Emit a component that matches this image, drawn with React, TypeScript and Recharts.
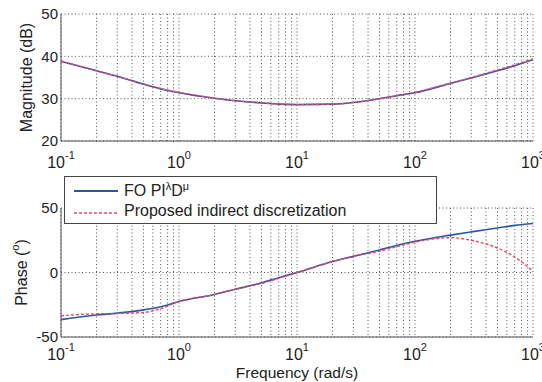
import React from "react";
import { LineChart, Line, XAxis, YAxis, CartesianGrid, Legend, Label } from "recharts";

// frequency points (rad/s)
const FREQ = [0.1, 0.2, 0.3, 0.5, 0.7, 1, 2, 3, 5, 7, 10, 20, 30, 50, 70, 100, 200, 300, 500, 700, 1000];

// magnitude (dB)
const MAG_FO = [38.8, 36.6, 35.3, 33.4, 32.3, 31.4, 30.1, 29.5, 29.0, 28.7, 28.6, 28.7, 29.1, 30.0, 30.7, 31.4, 33.6, 34.9, 36.6, 37.8, 39.2];
const MAG_DISC = [38.9, 36.6, 35.3, 33.5, 32.4, 31.5, 30.1, 29.5, 29.0, 28.7, 28.6, 28.7, 29.1, 30.0, 30.7, 31.5, 33.7, 35.0, 36.8, 38.0, 39.4];

// phase (deg)
const PHASE_FO = [-36.5, -33, -31.5, -29, -26.5, -22.5, -17, -13, -8, -4, 0, 8.5, 12.5, 17.5, 21, 24.2, 29, 31.5, 34.5, 36.5, 38];
const PHASE_DISC = [-33.5, -32, -31.8, -31, -28, -22.5, -17, -13, -8.5, -4.5, 0, 8.5, 12.5, 16.5, 20, 23.5, 27, 25, 19, 12, 1];

const DECADES = [0.1, 1, 10, 100, 1000];
const DECADE_EXP = ["-1", "0", "1", "2", "3"];
const MAG_TICKS = [20, 30, 40, 50];
const PHASE_TICKS = [-50, 0, 50];

const X_TICKS = DECADES.slice(0, -1)
  .flatMap((d) => [1, 2, 3, 4, 5, 6, 7, 8, 9].map((m) => +(d * m).toPrecision(3)))
  .concat(1000);

const magData = FREQ.map((f, i) => ({ f, fo: MAG_FO[i], disc: MAG_DISC[i] }));
const phaseData = FREQ.map((f, i) => ({ f, fo: PHASE_FO[i], disc: PHASE_DISC[i] }));

const FONT = "'Liberation Sans', Arial, sans-serif";
const BLUE = "#2a57a3";
const RED = "#e8476a";
const FRAME = "#555";
const GRID = "#555";
const W = 542;

function DecadeTick({ x, y, payload, shift }: any) {
  const i = DECADES.indexOf(payload.value);
  if (i < 0) return <g />;
  return (
    <text x={x} y={y + shift} textAnchor="middle" fontSize={16} fill="#222" fontFamily={FONT}>
      10
      <tspan dy={-9} fontSize={11}>
        {DECADE_EXP[i]}
      </tspan>
    </text>
  );
}

function YTitle({ viewBox, cx, children }: any) {
  const cy = viewBox.y + viewBox.height / 2;
  return (
    <text
      x={cx}
      y={cy}
      transform={`rotate(-90 ${cx} ${cy})`}
      textAnchor="middle"
      dominantBaseline="central"
      fontSize={16}
      fill="#222"
      fontFamily={FONT}
    >
      {children}
    </text>
  );
}

function LegendBox() {
  return (
    <div
      style={{
        width: 371,
        height: 46,
        border: "1px solid #444",
        background: "#fff",
        fontFamily: FONT,
        fontSize: 16,
        color: "#222",
        position: "relative",
      }}
    >
      <svg width={60} height={46} style={{ position: "absolute", left: 0, top: 0 }}>
        <line x1={9} x2={53} y1={14} y2={14} stroke={BLUE} strokeWidth={1.8} />
        <line x1={9} x2={53} y1={36} y2={36} stroke={RED} strokeWidth={1.6} strokeDasharray="3 2" />
      </svg>
      <div style={{ position: "absolute", left: 59, top: 3, whiteSpace: "nowrap" }}>
        FO PI<sup style={{ fontSize: 11 }}>λ</sup>D<sup style={{ fontSize: 11 }}>μ</sup>
      </div>
      <div style={{ position: "absolute", left: 59, top: 25, whiteSpace: "nowrap" }}>
        Proposed indirect discretization
      </div>
    </div>
  );
}

function frameAxes(domainY: number[]) {
  return [
    <XAxis
      key="top"
      xAxisId="top"
      orientation="top"
      type="number"
      scale="log"
      domain={[0.1, 1000]}
      allowDataOverflow
      tick={false}
      tickLine={false}
      height={0}
      axisLine={{ stroke: FRAME }}
    />,
    <YAxis
      key="right"
      yAxisId="right"
      orientation="right"
      type="number"
      domain={domainY}
      allowDataOverflow
      tick={false}
      tickLine={false}
      width={0}
      axisLine={{ stroke: FRAME }}
    />,
  ];
}

export default function App() {
  return (
    <div style={{ position: "absolute", left: 0, top: 0, width: W, height: 382, background: "#fff" }}>
      <div style={{ position: "absolute", left: 0, top: 0 }}>
        <LineChart width={W} height={170} data={magData} margin={{ top: 14, right: 9, left: 0, bottom: 0 }}>
          <CartesianGrid stroke={GRID} strokeDasharray="1 2.5" />
          <XAxis
            dataKey="f"
            type="number"
            scale="log"
            domain={[0.1, 1000]}
            ticks={X_TICKS}
            interval={0}
            allowDataOverflow
            height={29}
            tickSize={0}
            tickLine={false}
            tick={<DecadeTick shift={25} />}
            axisLine={{ stroke: FRAME }}
          />
          <YAxis
            type="number"
            domain={[20, 50]}
            ticks={MAG_TICKS}
            width={61}
            tickSize={0}
            tickMargin={3}
            tickLine={false}
            tick={{ fontSize: 15, fill: "#222", fontFamily: FONT }}
            axisLine={{ stroke: FRAME }}
          >
            <Label content={(p: any) => <YTitle viewBox={p.viewBox} cx={26}>Magnitude (dB)</YTitle>} />
          </YAxis>
          {frameAxes([20, 50])}
          <Line dataKey="fo" type="monotone" stroke={BLUE} strokeWidth={1.6} dot={false} isAnimationActive={false} />
          <Line
            dataKey="disc"
            type="monotone"
            stroke={RED}
            strokeWidth={1.4}
            strokeDasharray="3 2"
            dot={false}
            isAnimationActive={false}
          />
        </LineChart>
      </div>
      <div style={{ position: "absolute", left: 0, top: 170 }}>
        <LineChart width={W} height={212} data={phaseData} margin={{ top: 38, right: 9, left: 0, bottom: 0 }}>
          <CartesianGrid stroke={GRID} strokeDasharray="1 2.5" />
          <XAxis
            dataKey="f"
            type="number"
            scale="log"
            domain={[0.1, 1000]}
            ticks={X_TICKS}
            interval={0}
            allowDataOverflow
            height={45}
            tickSize={0}
            tickLine={false}
            tick={<DecadeTick shift={21} />}
            axisLine={{ stroke: FRAME }}
          >
            <Label
              value="Frequency (rad/s)"
              position="insideBottom"
              offset={4}
              style={{ fontSize: 15.5, fill: "#222", fontFamily: FONT }}
            />
          </XAxis>
          <YAxis
            type="number"
            domain={[-50, 50]}
            ticks={PHASE_TICKS}
            width={61}
            tickSize={0}
            tickMargin={3}
            tickLine={false}
            tick={{ fontSize: 15, fill: "#222", fontFamily: FONT }}
            axisLine={{ stroke: FRAME }}
          >
            <Label
              content={(p: any) => (
                <YTitle viewBox={p.viewBox} cx={21}>
                  Phase (<tspan dy={-6} fontSize={11}>o</tspan>
                  <tspan dy={6}>)</tspan>
                </YTitle>
              )}
            />
          </YAxis>
          {frameAxes([-50, 50])}
          <Line dataKey="fo" type="monotone" stroke={BLUE} strokeWidth={1.6} dot={false} isAnimationActive={false} />
          <Line
            dataKey="disc"
            type="monotone"
            stroke={RED}
            strokeWidth={1.4}
            strokeDasharray="3 2"
            dot={false}
            isAnimationActive={false}
          />
          <Legend
            verticalAlign="middle"
            layout="horizontal"
            wrapperStyle={{ left: 64, top: 6, width: 373, height: 48 }}
            content={() => <LegendBox />}
          />
        </LineChart>
      </div>
    </div>
  );
}
